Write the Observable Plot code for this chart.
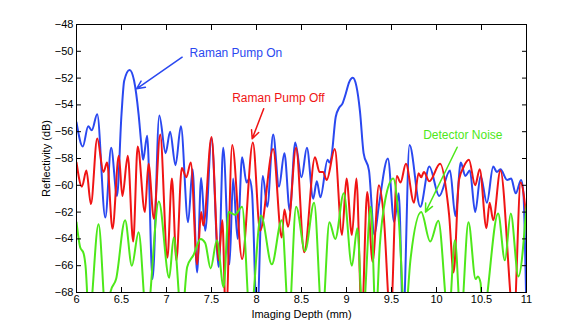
<!DOCTYPE html>
<html>
<head>
<meta charset="utf-8">
<script src="https://cdn.jsdelivr.net/npm/d3@7"></script>
<script src="https://cdn.jsdelivr.net/npm/@observablehq/plot@0.6"></script>
<style>
  html, body { margin: 0; padding: 0; background: white; }
</style>
</head>
<body>
<div id="chart"></div>
<script>
// Raman Pump On (blue) — depth (mm), reflectivity (dB)
const pumpOnX = [6.00,6.07,6.13,6.17,6.23,6.32,6.385,6.45,6.50,6.53,6.59,6.64,6.69,6.72,6.74,6.785,6.845,6.92,6.99,7.04,7.10,7.16,7.24,7.29,7.34,7.385,7.43,7.50,7.58,7.63,7.70,7.74,7.79,7.84,7.89,7.92,7.95,8.005,8.07,8.12,8.185,8.25,8.31,8.37,8.43,8.50,8.56,8.63,8.67,8.71,8.79,8.81,8.83,8.88,8.92,8.955,8.99,9.03,9.07,9.11,9.15,9.19,9.25,9.31,9.36,9.46,9.53,9.58,9.63,9.70,9.82,9.92,10.03,10.15,10.21,10.27,10.32,10.37,10.43,10.49,10.56,10.63,10.67,10.71,10.785,10.83,10.88,10.94,10.965,11.0];
const pumpOnY = [-55.3,-57.1,-55.6,-55.9,-54.7,-62.4,-57.2,-60.8,-54.7,-52.2,-51.4,-52.2,-54.7,-56.9,-58.1,-56.3,-67.0,-54.8,-57.6,-56.0,-58.5,-55.6,-62.75,-58.8,-66.5,-59.45,-63.4,-56.5,-66.1,-57.2,-65.9,-59.5,-64.0,-57.9,-59.8,-59.5,-60.5,-70,-59.3,-61.6,-56.2,-60.1,-57.6,-61.9,-56.8,-59.4,-57.2,-61.0,-59.7,-60.9,-58.1,-58.3,-58.0,-54.9,-54.2,-53.9,-53.2,-52.3,-51.98,-52.6,-54.5,-57.6,-58.9,-63.7,-61.5,-58.0,-62.75,-60.6,-70,-57.0,-61.6,-58.6,-60.8,-58.9,-62.3,-58.3,-59.3,-58.9,-62.0,-59.3,-61.3,-58.6,-59.0,-58.8,-59.6,-59.5,-60.6,-59.6,-60.5,-70];

// Raman Pump Off (red)
const pumpOffX = [6.00,6.06,6.11,6.16,6.23,6.30,6.34,6.40,6.47,6.51,6.57,6.63,6.68,6.76,6.80,6.86,6.93,7.01,7.06,7.11,7.17,7.22,7.27,7.34,7.385,7.41,7.50,7.58,7.62,7.66,7.73,7.84,7.96,8.04,8.185,8.28,8.31,8.35,8.44,8.53,8.65,8.70,8.74,8.78,8.87,8.95,9.00,9.06,9.11,9.17,9.23,9.29,9.36,9.41,9.49,9.56,9.60,9.66,9.75,9.80,9.83,9.86,9.92,10.04,10.12,10.14,10.19,10.25,10.30,10.36,10.43,10.48,10.555,10.59,10.63,10.71,10.86,10.935,11.0];
const pumpOffY = [-58.3,-60.1,-58.9,-61.4,-56.5,-59.0,-58.3,-63.25,-57.8,-60.8,-57.8,-64.2,-57.1,-62.0,-58.4,-62.5,-56.2,-65.4,-59.5,-65.6,-58.7,-59.4,-58.3,-65.9,-62.0,-63.0,-56.4,-65.6,-62.6,-70,-57.0,-65.5,-56.8,-63.4,-57.3,-63.9,-61.8,-63.1,-57.2,-65.0,-57.9,-59.0,-59.0,-59.6,-57.3,-63.7,-59.5,-63.7,-59.5,-70,-60.5,-65.7,-60.0,-62.0,-70,-59.3,-59.8,-58.4,-61.3,-59.1,-59.4,-59.0,-59.7,-58.4,-61.0,-62.2,-66.5,-59.6,-58.65,-58.1,-60.0,-58.8,-63.2,-61.3,-62.6,-58.9,-70,-59.8,-62.5];

// Detector Noise (green)
const noiseX = [6.00,6.04,6.08,6.10,6.14,6.245,6.33,6.38,6.44,6.54,6.615,6.69,6.78,6.915,7.03,7.08,7.17,7.23,7.30,7.38,7.43,7.49,7.56,7.635,7.69,7.76,7.84,7.93,8.05,8.17,8.28,8.36,8.44,8.54,8.64,8.73,8.81,8.875,8.97,9.06,9.12,9.18,9.27,9.325,9.37,9.43,9.52,9.58,9.65,9.71,9.83,9.93,10.02,10.135,10.205,10.27,10.355,10.435,10.46,10.49,10.51,10.685,10.76,10.825,10.91,11.0];
const noiseY = [-62.75,-64.6,-65.1,-66,-70,-62.9,-70,-67.9,-67.0,-62.6,-66.0,-63.5,-70,-61.2,-66.9,-63.9,-70,-66.1,-65.2,-64.0,-64.3,-66.2,-64.1,-67.6,-62.0,-62.2,-61.6,-70,-62.25,-65.9,-62.6,-70,-61.6,-64.9,-61.3,-70,-62.75,-64.0,-60.6,-66.0,-63.2,-70,-61.6,-70,-64.5,-61.1,-59.5,-62.5,-70,-65.6,-62.0,-64.2,-62.65,-70,-64.1,-70,-62.75,-67.0,-66.8,-67.3,-70,-62.1,-65.6,-62.1,-66.8,-61.5];

// Tick values
const xTicks = [6,6.5,7,7.5,8,8.5,9,9.5,10,10.5,11];
const yTicks = [-68,-66,-64,-62,-60,-58,-56,-54,-52,-50,-48];

// Annotations (text anchor point and arrow in data units)
const annLabels = ["Raman Pump On","Raman Pump Off","Detector Noise"];
const annColors = ["#2a48f0","#f01414","#4ee81a"];
const annTextX = [7.256, 7.73, 9.852];
const annTextY = [-50.16, -53.5, -56.28];
const annFromX = [7.174, 8.08, 10.23];
const annFromY = [-50.44, -54.29, -57.16];
const annToX = [6.667, 7.952, 9.878];
const annToY = [-52.8, -56.53, -62.0];

const toRows = (xs, ys) => xs.map((x, i) => ({x, y: ys[i]}));
const on = toRows(pumpOnX, pumpOnY);
const off = toRows(pumpOffX, pumpOffY);
const noise = toRows(noiseX, noiseY);
const ann = annLabels.map((t, i) => ({
  text: t, color: annColors[i],
  tx: annTextX[i], ty: annTextY[i],
  x1: annFromX[i], y1: annFromY[i], x2: annToX[i], y2: annToY[i]
}));

const font = "'Liberation Sans', Arial, Helvetica, sans-serif";

const chart = Plot.plot({
  width: 581,
  height: 328,
  marginLeft: 76,
  marginRight: 55,
  marginTop: 24,
  marginBottom: 36,
  style: {fontFamily: font, fontSize: "11px", background: "white", color: "black"},
  x: {domain: [6, 11]},
  y: {domain: [-68, -48]},
  marks: [
    Plot.line(on, {x: "x", y: "y", stroke: annColors[0], strokeWidth: 2, curve: "monotone-x", clip: true}),
    Plot.line(off, {x: "x", y: "y", stroke: annColors[1], strokeWidth: 2, curve: "monotone-x", clip: true}),
    Plot.line(noise, {x: "x", y: "y", stroke: annColors[2], strokeWidth: 2, curve: "monotone-x", clip: true}),
    Plot.frame({stroke: "black", strokeWidth: 1}),
    Plot.axisX({anchor: "bottom", ticks: xTicks, tickFormat: d => String(d), tickSize: -5, tickPadding: 8, label: "Imaging Depth (mm)", labelAnchor: "center", labelArrow: "none", labelOffset: 25}),
    Plot.axisX({anchor: "top", ticks: xTicks, tickSize: -5, tickFormat: () => "", label: null}),
    Plot.axisY({anchor: "left", ticks: yTicks, tickSize: -5, tickPadding: 8, label: "Reflectivity (dB)", labelAnchor: "center", labelArrow: "none", labelOffset: 34}),
    Plot.axisY({anchor: "right", ticks: yTicks, tickSize: -5, tickFormat: () => "", label: null}),
    Plot.arrow(ann, {x1: "x1", y1: "y1", x2: "x2", y2: "y2", stroke: "color", strokeWidth: 1.5, headLength: 9, headAngle: 50}),
    Plot.text(ann, {x: "tx", y: "ty", text: "text", fill: "color", textAnchor: "start", fontSize: 12})
  ]
});
document.getElementById("chart").appendChild(chart);
</script>
</body>
</html>
